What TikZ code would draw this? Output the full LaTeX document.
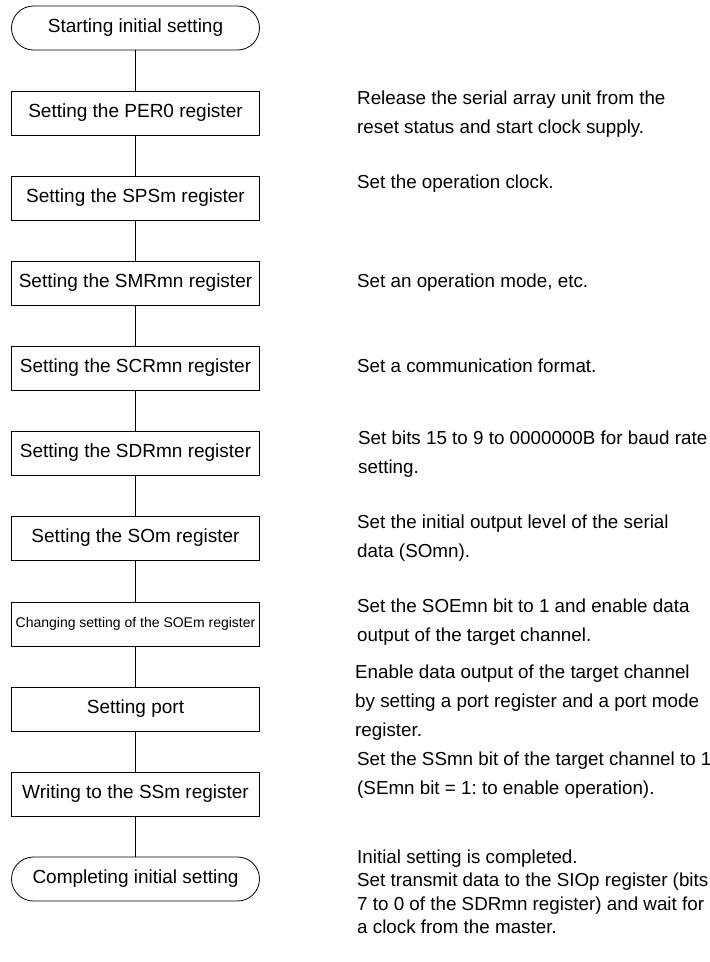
\documentclass[tikz,border=0pt]{standalone}
\usepackage{fontspec}
\setmainfont{Liberation Sans}
\usetikzlibrary{shapes.misc}
\frenchspacing
\begin{document}
\begin{tikzpicture}[x=1pt,y=-1pt,
  stepbox/.style={draw, line width=0.8pt, minimum width=248pt, minimum height=44pt, inner sep=0pt, font=\fontsize{19}{22}\selectfont},
  term/.style={stepbox, rounded rectangle},
  note/.style={anchor=base west, inner sep=0pt, align=left, font=\fontsize{18.8}{29}\selectfont},
  link/.style={line width=0.8pt}]
\useasboundingbox (0,0) rectangle (710,962);
\node[term]    (s0)  at (135.5,28)  {Starting initial setting};
\node[stepbox] (s1)  at (135.5,113) {Setting the PER0 register};
\node[stepbox] (s2)  at (135.5,198) {Setting the SPSm register};
\node[stepbox] (s3)  at (135.5,283) {Setting the SMRmn register};
\node[stepbox] (s4)  at (135.5,368) {Setting the SCRmn register};
\node[stepbox] (s5)  at (135.5,453) {Setting the SDRmn register};
\node[stepbox] (s6)  at (135.5,538) {Setting the SOm register};
\node[stepbox, font=\fontsize{14}{16}\selectfont] (s7) at (135.5,624) {Changing setting of the SOEm register};
\node[stepbox] (s8)  at (135.5,709) {Setting port};
\node[stepbox] (s9)  at (135.5,794) {Writing to the SSm register};
\node[term]    (s10) at (135.5,879) {Completing initial setting};
\foreach \a/\b in {s0/s1,s1/s2,s2/s3,s3/s4,s4/s5,s5/s6,s6/s7,s7/s8,s8/s9,s9/s10}
  \draw[link] (\a.south) -- (\b.north);

% multi-line notes are anchored at the baseline of their last line
\node[note] (n1) at (357,133) {Release the serial array unit from the\\reset status and start clock supply.};
\node[note] (n2) at (357,188) {Set the operation clock.};
\node[note] (n3) at (357,287) {Set an operation mode, etc.};
\node[note] (n4) at (357,372) {Set a communication format.};
\node[note] (n5) at (358,473) {Set bits 15 to 9 to 0000000B for baud rate\\setting.};
\node[note] (n6) at (357,557) {Set the initial output level of the serial\\data (SOmn).};
\node[note] (n7) at (357,641) {Set the SOEmn bit to 1 and enable data\\output of the target channel.};
\node[note] (n8) at (355,736) {Enable data output of the target channel\\by setting a port register and a port mode\\register.};
\node[note] (n9) at (357,794) {Set the SSmn bit of the target channel to 1\\(SEmn bit = 1: to enable operation).};
\node[note, font=\fontsize{18.8}{23.5}\selectfont] (n10) at (357,933.5) {Initial setting is completed.\\Set transmit data to the SIOp register (bits\\7 to 0 of the SDRmn register) and wait for\\a clock from the master.};
\end{tikzpicture}
\end{document}
